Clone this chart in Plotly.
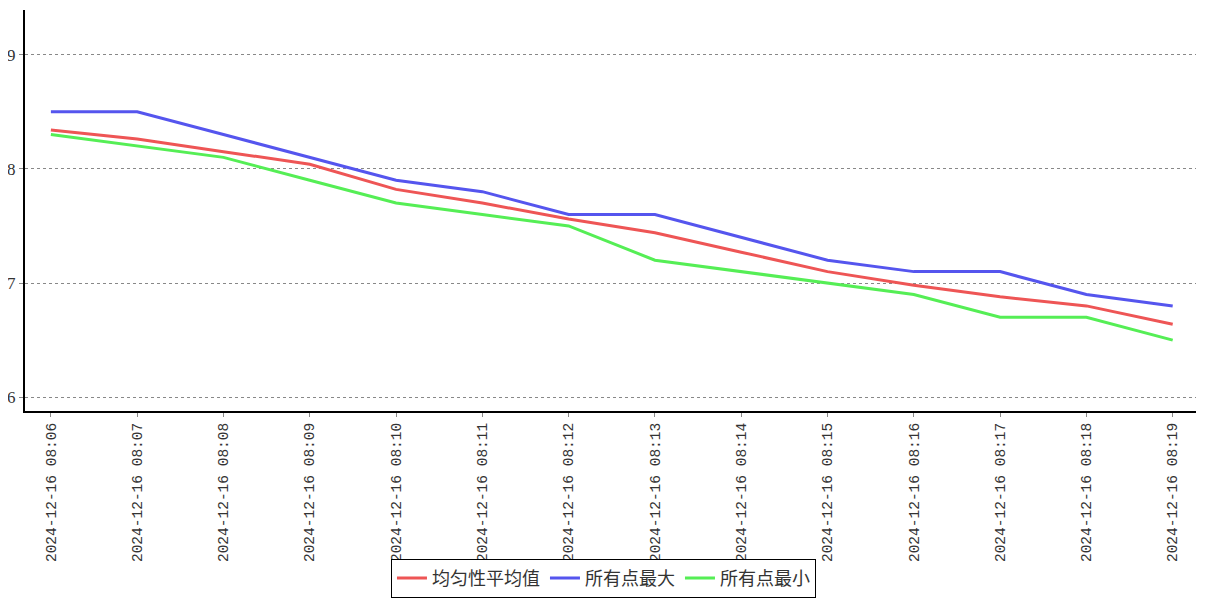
import plotly.graph_objects as go

times = ["2024-12-16\u00a008:%02d" % m for m in range(6, 20)]
avg_vals = [8.34, 8.26, 8.15, 8.04, 7.82, 7.70, 7.56, 7.44, 7.27, 7.10, 6.98, 6.88, 6.80, 6.64]
max_vals = [8.5, 8.5, 8.3, 8.1, 7.9, 7.8, 7.6, 7.6, 7.4, 7.2, 7.1, 7.1, 6.9, 6.8]
min_vals = [8.3, 8.2, 8.1, 7.9, 7.7, 7.6, 7.5, 7.2, 7.1, 7.0, 6.9, 6.7, 6.7, 6.5]

names = ["均匀性平均值", "所有点最大", "所有点最小"]
colors = ["#EE5555", "#5555EE", "#55EE55"]

fig = go.Figure()
for name, vals, c in zip(names, [avg_vals, max_vals, min_vals], colors):
    fig.add_trace(go.Scatter(x=times, y=vals, mode="lines", name=name,
                             line=dict(color=c, width=3)))

fig.update_layout(
    width=1207, height=600,
    paper_bgcolor="white", plot_bgcolor="white",
    margin=dict(l=17, r=19, t=2, b=197),
    font=dict(family="Liberation Serif, Noto Sans CJK SC", color="#333333"),
    showlegend=True,
    legend=dict(orientation="h", x=0.494, xanchor="center",
                y=-0.466, yanchor="bottom",
                bordercolor="black", borderwidth=1,
                font=dict(size=18, family="Noto Sans CJK SC", color="#333333"),
                itemwidth=30, tracegroupgap=0),
)
fig.update_xaxes(
    type="category", range=[-0.3, 13.27], automargin=False,
    showline=True, linecolor="black", linewidth=2,
    ticks="outside", ticklen=4, tickcolor="#888888",
    tickangle=-90, tickfont=dict(family="Liberation Mono", size=14.5, color="#333333"),
    showgrid=False, zeroline=False,
)
fig.update_yaxes(
    range=[5.88, 9.39], tickvals=[6, 7, 8, 9], automargin=False,
    showline=True, linecolor="black", linewidth=2,
    ticks="outside", ticklen=4, tickcolor="#888888",
    tickfont=dict(family="Liberation Serif", size=17, color="#333333"),
    showgrid=True, gridcolor="#888888", griddash="dot", gridwidth=1,
    zeroline=False,
)
fig.write_html("out.html")
